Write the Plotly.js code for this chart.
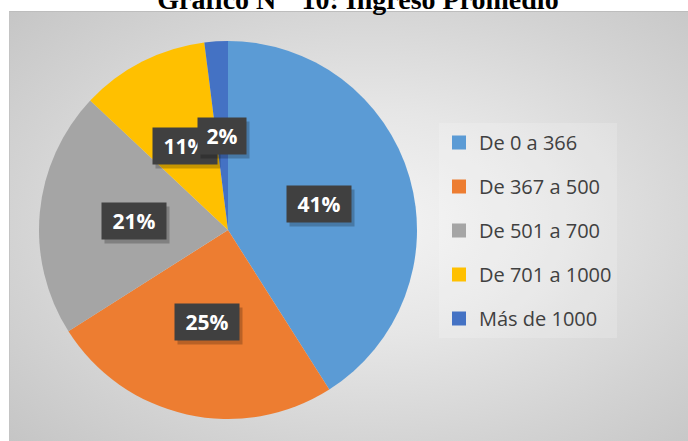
<!DOCTYPE html>
<html>
<head>
<meta charset="utf-8">
<script src="https://cdn.plot.ly/plotly-3.0.1.min.js"></script>
<style>
  html, body { margin: 0; padding: 0; background: #ffffff; }
  #wrap { position: relative; width: 688px; height: 441px; overflow: hidden; background: #ffffff; }
  #bg { position: absolute; left: 9px; top: 11px; width: 690px; height: 440px;
        border-top: 1px solid #bdbdbd; border-left: 1px solid #c4c4c4;
        background: radial-gradient(ellipse at 52% 48%, #f4f4f4 0%, #e6e6e6 35%, #d3d3d3 70%, #c4c4c4 100%); }
  #chart { position: absolute; left: 0; top: 0; width: 688px; height: 441px; }
</style>
</head>
<body>
<div id="wrap">
  <div id="bg"></div>
  <div id="chart"></div>
</div>
<script>
const categories = ['De 0 a 366', 'De 367 a 500', 'De 501 a 700', 'De 701 a 1000', 'Más de 1000'];
const values = [41, 25, 21, 11, 2];
const pctLabels = ['41%', '25%', '21%', '11%', '2%'];
const colors = ['#5B9BD5', '#ED7D31', '#A5A5A5', '#FFC000', '#4472C4'];

const W = 688, H = 441;
const domain = { x: [39 / W, 417 / W], y: [1 - 419 / H, 1 - 41 / H] };

const pie = {
  type: 'pie',
  labels: categories,
  values: values,
  sort: false,
  direction: 'clockwise',
  rotation: 0,
  marker: { colors: colors, line: { width: 0 } },
  textinfo: 'none',
  hoverinfo: 'label+percent',
  showlegend: false,
  domain: domain
};

// legend entries (dummy traces for spacing control)
const legendTraces = categories.map((c, i) => ({
  type: 'scatter', mode: 'markers', x: [null], y: [null], name: c,
  legendgroup: 'g' + i,
  marker: { symbol: 'square', size: 14, color: colors[i] },
  hoverinfo: 'skip'
}));

// data label positions from slice angles
const total = values.reduce((a, b) => a + b, 0);
const cx = (domain.x[0] + domain.x[1]) / 2 * W;
const cy = (1 - (domain.y[0] + domain.y[1]) / 2) * H;
const r = Math.min((domain.x[1] - domain.x[0]) * W, (domain.y[1] - domain.y[0]) * H) / 2;
const annotations = [];
let cum = 0;
values.forEach((v, i) => {
  const mid = (cum + v / 2) / total;
  cum += v;
  const th = 2 * Math.PI * mid;
  const px = cx + 0.5 * r * Math.sin(th);
  const py = cy - 0.5 * r * Math.cos(th);
  const w = pctLabels[i].length >= 3 ? 58 : 42;
  const base = {
    xref: 'paper', yref: 'paper', x: px / W, y: 1 - py / H,
    xanchor: 'center', yanchor: 'middle', showarrow: false,
    width: w, height: 30, borderpad: 3,
    font: { family: 'Open Sans', size: 21, color: '#ffffff', weight: 'bold' },
    text: '<b>' + pctLabels[i] + '</b>'
  };
  annotations.push(Object.assign({}, base, {
    text: '', xshift: 3, yshift: -4, bgcolor: 'rgba(0,0,0,0.22)'
  }));
  annotations.push(Object.assign({}, base, { bgcolor: '#404040' }));
});

const layout = {
  width: W, height: H,
  margin: { l: 0, r: 0, t: 0, b: 0 },
  paper_bgcolor: 'rgba(0,0,0,0)',
  plot_bgcolor: 'rgba(0,0,0,0)',
  title: {
    text: '<b>Gráfico N°  10: Ingreso Promedio</b>',
    font: { family: 'Liberation Serif', size: 28, color: '#000000' },
    x: 358 / W, xanchor: 'center',
    yref: 'container', y: 1 - 9 / H, yanchor: 'bottom'
  },
  xaxis: { visible: false, domain: [0.9, 1] },
  yaxis: { visible: false, domain: [0.9, 1] },
  showlegend: true,
  legend: {
    x: 439 / W, xanchor: 'left', y: 1 - 123 / H, yanchor: 'top',
    traceorder: 'grouped', tracegroupgap: 15,
    font: { family: 'Open Sans', size: 20, color: '#404040' },
    bgcolor: 'rgba(255,255,255,0.18)',
    itemsizing: 'trace'
  },
  annotations: annotations
};

Plotly.newPlot('chart', [pie].concat(legendTraces), layout, { displayModeBar: false, staticPlot: true });
</script>
</body>
</html>
